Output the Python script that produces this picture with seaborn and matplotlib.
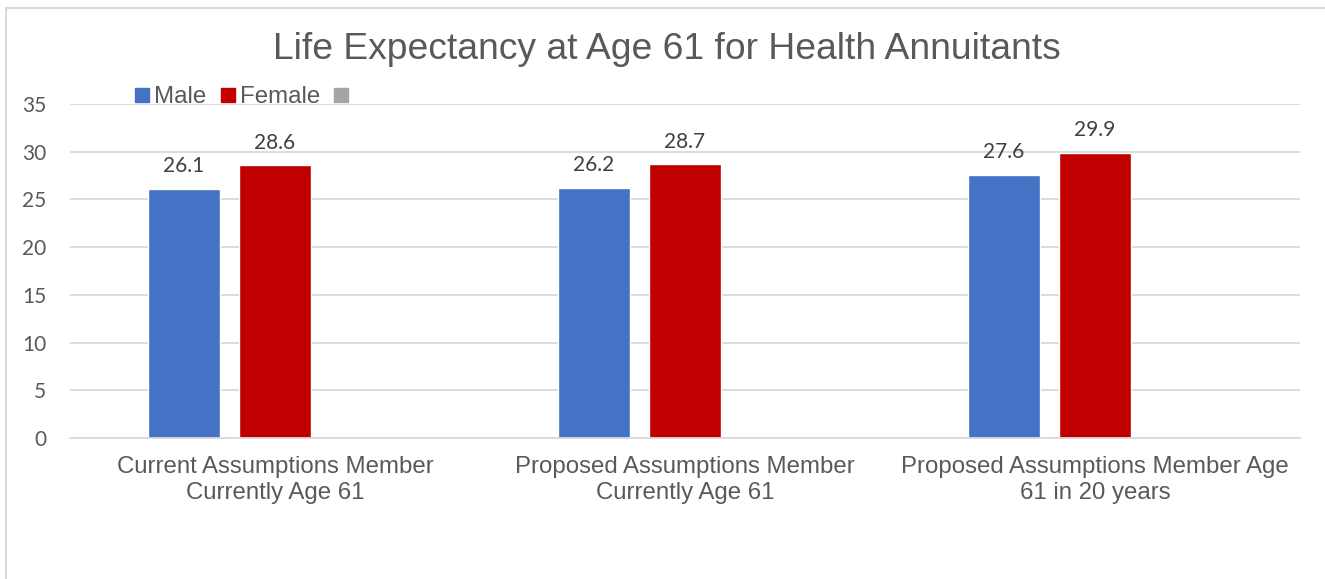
import matplotlib
matplotlib.use("Agg")
import matplotlib.pyplot as plt
from matplotlib.lines import Line2D
import numpy as np
import pandas as pd
import seaborn as sns

# Chart data
scenarios = [
    "Current Assumptions Member\nCurrently Age 61",
    "Proposed Assumptions Member\nCurrently Age 61",
    "Proposed Assumptions Member Age\n61 in 20 years",
]
series = ["Male", "Female", " "]
male = [26.1, 26.2, 27.6]
female = [28.6, 28.7, 29.9]
blank = [np.nan, np.nan, np.nan]
y_ticks = [0, 5, 10, 15, 20, 25, 30, 35]

colors = ["#4472C4", "#C00000", "#A5A5A5"]
text_color = "#595959"
grid_color = "#D9D9D9"

df = pd.DataFrame({
    "scenario": scenarios * 3,
    "series": [series[0]] * 3 + [series[1]] * 3 + [series[2]] * 3,
    "years": male + female + blank,
})

sns.set_theme(style="white")
plt.rcParams["font.family"] = ["Liberation Sans", "DejaVu Sans"]

fig = plt.figure(figsize=(13.25, 5.79), dpi=100)
ax = fig.add_axes([0.0528, 0.2435, 0.9283, 0.5769])

sns.barplot(
    data=df, x="scenario", y="years", hue="series",
    order=scenarios, hue_order=series, palette=colors,
    width=0.666, gap=0.21, errorbar=None, legend=False,
    saturation=1, ax=ax,
)

ax.set_xlim(-0.5, 2.5)
ax.set_ylim(0, 35)
ax.set_yticks(y_ticks)
ax.set_xlabel("")
ax.set_ylabel("")

ax.yaxis.grid(True, color=grid_color, linewidth=1.3)
ax.set_axisbelow(True)
for side in ["left", "right", "top"]:
    ax.spines[side].set_visible(False)
ax.spines["bottom"].set_color(grid_color)
ax.spines["bottom"].set_linewidth(1.3)

ax.tick_params(axis="both", length=0)
ax.tick_params(axis="y", pad=17, labelsize=15, labelcolor=text_color)
ax.tick_params(axis="x", pad=13, labelsize=17.3, labelcolor=text_color)
for lbl in ax.get_yticklabels():
    lbl.set_family(["Lato", "DejaVu Sans"])
for lbl in ax.get_xticklabels():
    lbl.set_linespacing(1.22)

# Value labels on the Male and Female bars
for container in ax.containers[:2]:
    ax.bar_label(container, fmt="%.1f", padding=9, fontsize=15,
                 color="#404040", family=["Lato", "DejaVu Sans"])

# Legend with square swatches
handles = [
    Line2D([], [], marker="s", linestyle="none", markersize=10,
           markerfacecolor=c, markeredgecolor=c)
    for c in colors
]
leg = fig.legend(
    handles, series, loc="center left", bbox_to_anchor=(0.095, 0.832),
    ncol=3, frameon=False, fontsize=17.3, handlelength=0.55,
    handletextpad=0.23, columnspacing=0.6, borderaxespad=0,
)
for t in leg.get_texts():
    t.set_color(text_color)

fig.text(0.503, 0.915, "Life Expectancy at Age 61 for Health Annuitants",
         ha="center", va="center", fontsize=26.8, color=text_color)

# Chart area frame
fig.add_artist(Line2D([6 / 1325, 6 / 1325], [0, 1 - 8 / 579],
                      transform=fig.transFigure, color=grid_color, lw=1.5))
fig.add_artist(Line2D([6 / 1325, 1], [1 - 8 / 579, 1 - 8 / 579],
                      transform=fig.transFigure, color=grid_color, lw=1.5))

fig.savefig("out.png", dpi=100, facecolor="white")
